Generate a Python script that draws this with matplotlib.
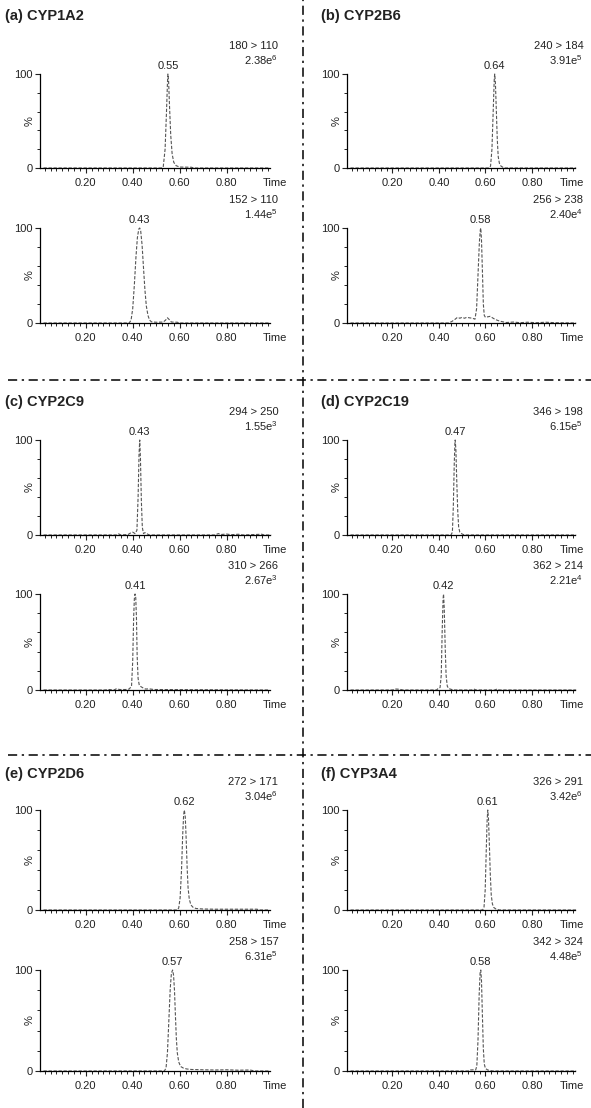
import matplotlib
matplotlib.use("Agg")
import matplotlib.pyplot as plt
from matplotlib.ticker import FixedLocator, MultipleLocator
from matplotlib.lines import Line2D

plt.rcParams.update({
    "font.family": ["Liberation Sans", "DejaVu Sans"],
    "font.size": 8,
    "mathtext.fontset": "custom",
    "mathtext.rm": "Liberation Sans",
    "mathtext.it": "Liberation Sans:italic",
    "mathtext.bf": "Liberation Sans:bold",
})

# === data (time [min], relative intensity [%]) ===
enzymes = ["(a) CYP1A2", "(b) CYP2B6", "(c) CYP2C9", "(d) CYP2C19", "(e) CYP2D6", "(f) CYP3A4"]

transitions = [["180 > 110", "152 > 110"], ["240 > 184", "256 > 238"],
               ["294 > 250", "310 > 266"], ["346 > 198", "362 > 214"],
               ["272 > 171", "258 > 157"], ["326 > 291", "342 > 324"]]
intensities = [[r"2.38e$^{6}$", r"1.44e$^{5}$"], [r"3.91e$^{5}$", r"2.40e$^{4}$"],
               [r"1.55e$^{3}$", r"2.67e$^{3}$"], [r"6.15e$^{5}$", r"2.21e$^{4}$"],
               [r"3.04e$^{6}$", r"6.31e$^{5}$"], [r"3.42e$^{6}$", r"4.48e$^{5}$"]]
peak_rt = [[0.55, 0.43], [0.64, 0.58], [0.43, 0.41], [0.47, 0.42], [0.62, 0.57], [0.61, 0.58]]

# CYP1A2
a1_t = [0.02, 0.52, 0.530, 0.538, 0.544, 0.548, 0.550, 0.553, 0.557, 0.562, 0.568, 0.575, 0.585, 0.60, 0.65, 0.66, 0.98]
a1_y = [0, 0, 1, 20, 60, 90, 100, 92, 65, 35, 15, 6, 2.5, 1, 0.8, 0, 0]
a2_t = [0.02, 0.385, 0.393, 0.400, 0.407, 0.414, 0.420, 0.426, 0.430, 0.434, 0.440, 0.446, 0.452, 0.458,
        0.465, 0.472, 0.48, 0.50, 0.53, 0.54, 0.548, 0.556, 0.565, 0.59, 0.60, 0.98]
a2_y = [0, 0, 3, 15, 40, 70, 90, 99, 100, 97, 82, 58, 35, 18, 8, 3, 1.2, 0.8, 1, 3, 5.5, 3.5, 1, 0.8, 0, 0]
# CYP2B6
b1_t = [0.02, 0.615, 0.622, 0.628, 0.634, 0.638, 0.640, 0.643, 0.647, 0.651, 0.655, 0.660, 0.667, 0.675, 0.685, 0.99]
b1_y = [0, 0, 2, 20, 65, 95, 100, 90, 60, 30, 12, 5, 2, 0.8, 0, 0]
b2_t = [0.02, 0.44, 0.455, 0.47, 0.48, 0.49, 0.50, 0.51, 0.52, 0.53, 0.545, 0.555, 0.562, 0.568, 0.574,
        0.578, 0.580, 0.583, 0.587, 0.591, 0.595, 0.60, 0.61, 0.62, 0.63, 0.64, 0.655, 0.67, 0.69,
        0.72, 0.75, 0.78, 0.82, 0.86, 0.90, 0.99]
b2_y = [0, 0, 1.5, 4, 6, 5, 6, 5, 6, 5.5, 5, 4, 15, 50, 85, 98, 100, 88, 55, 20, 8, 6, 6.5, 7, 5.5, 4,
        2.5, 1.5, 0.5, 1, 0.3, 0.8, 0.3, 0.8, 0.3, 0]
# CYP2C9
c1_t = [0.02, 0.33, 0.34, 0.35, 0.38, 0.39, 0.40, 0.41, 0.418, 0.423, 0.427, 0.430, 0.433, 0.437, 0.441,
        0.446, 0.452, 0.46, 0.47, 0.75, 0.765, 0.775, 0.80, 0.82, 0.85, 0.87, 0.95, 0.96, 0.99]
c1_y = [0, 0, 1.2, 0, 0.5, 2, 3, 1.5, 5, 40, 85, 100, 80, 35, 8, 1.5, 2.5, 1.5, 0, 0, 1.5, 0.5, 1, 0.3,
        0.8, 0, 0.8, 0, 0]
c2_t = [0.02, 0.28, 0.30, 0.32, 0.33, 0.345, 0.37, 0.385, 0.395, 0.400, 0.404, 0.407, 0.410, 0.413,
        0.416, 0.419, 0.423, 0.428, 0.435, 0.445, 0.455, 0.47, 0.49, 0.98]
c2_y = [0, 0, 0.5, 0, 1.2, 0.5, 0.5, 1, 4, 30, 75, 95, 100, 96, 75, 35, 12, 5, 3.5, 2, 1, 1.2, 0.5, 0]
# CYP2C19
d1_t = [0.02, 0.452, 0.458, 0.462, 0.466, 0.469, 0.470, 0.473, 0.477, 0.481, 0.485, 0.49, 0.50, 0.51, 0.99]
d1_y = [0, 0, 3, 30, 75, 98, 100, 90, 55, 25, 8, 3, 1, 0, 0]
d2_t = [0.02, 0.20, 0.215, 0.23, 0.245, 0.39, 0.398, 0.405, 0.410, 0.414, 0.418, 0.420, 0.423, 0.427,
        0.431, 0.436, 0.442, 0.455, 0.47, 0.54, 0.55, 0.56, 0.64, 0.65, 0.66, 0.99]
d2_y = [0, 0, 1, 0.8, 0, 0, 2, 2.5, 15, 60, 95, 100, 85, 45, 15, 4, 1.5, 0.5, 0, 0, 1, 0, 0, 1, 0, 0]
# CYP2D6
e1_t = [0.02, 0.59, 0.596, 0.602, 0.608, 0.613, 0.617, 0.620, 0.624, 0.628, 0.632, 0.636, 0.641, 0.648,
        0.658, 0.67, 0.70, 0.75, 0.85, 0.93, 0.94, 0.98]
e1_y = [0, 0, 2, 12, 40, 75, 95, 100, 93, 70, 42, 22, 11, 5, 2.5, 1.5, 1, 0.8, 0.8, 0.8, 0, 0]
e2_t = [0.02, 0.535, 0.542, 0.548, 0.554, 0.560, 0.565, 0.570, 0.574, 0.578, 0.582, 0.586, 0.590, 0.596,
        0.604, 0.615, 0.63, 0.65, 0.70, 0.75, 0.80, 0.85, 0.90, 0.92, 0.98]
e2_y = [0, 0, 3, 18, 50, 82, 97, 100, 95, 80, 55, 32, 18, 9, 4.5, 3, 2, 1.5, 1.2, 1, 1.2, 0.8, 1, 0, 0]
# CYP3A4
f1_t = [0.02, 0.588, 0.594, 0.599, 0.603, 0.607, 0.610, 0.613, 0.617, 0.621, 0.625, 0.63, 0.636, 0.645, 0.66, 0.99]
f1_y = [0, 0, 3, 20, 55, 88, 100, 92, 65, 35, 15, 6, 2.5, 1, 0, 0]
f2_t = [0.02, 0.525, 0.535, 0.55, 0.558, 0.563, 0.568, 0.573, 0.577, 0.580, 0.583, 0.587, 0.591, 0.595,
        0.60, 0.61, 0.62, 0.63, 0.99]
f2_y = [0, 0, 1, 1.2, 1, 5, 30, 75, 97, 100, 90, 55, 22, 7, 2.5, 1, 0.5, 0, 0]

traces = [[(a1_t, a1_y), (a2_t, a2_y)], [(b1_t, b1_y), (b2_t, b2_y)],
          [(c1_t, c1_y), (c2_t, c2_y)], [(d1_t, d1_y), (d2_t, d2_y)],
          [(e1_t, e1_y), (e2_t, e2_y)], [(f1_t, f1_y), (f2_t, f2_y)]]

# === layout in pixels ===
W, H = 591, 1108
col_x = [(40, 270), (347, 575)]
row_y = [(74, 168), (228, 323), (440, 535), (594, 690), (810, 910), (970, 1071)]
title_x = [5, 321]
title_y = [16, 402, 774]
time_dx = [12, 6.5]  # offset (pt) of the right edge of "Time" past the axis end
ink = "#222222"

fig = plt.figure(figsize=(W / 100, H / 100), dpi=100)


def px_rect(x0, x1, y0, y1):
    return [x0 / W, 1 - y1 / H, (x1 - x0) / W, (y1 - y0) / H]


for i in range(6):
    col, block = i % 2, i // 2
    fig.text(title_x[col] / W, 1 - title_y[block] / H, enzymes[i], fontsize=10.5,
             fontweight="bold", ha="left", va="center", color=ink)
    for k in range(2):
        x0, x1 = col_x[col]
        y0, y1 = row_y[2 * block + k]
        ax = fig.add_axes(px_rect(x0, x1, y0, y1))
        t, y = traces[i][k]
        ax.plot(t, y, color="#555555", lw=0.8, ls=(0, (3, 1.5)), clip_on=False)
        ax.set_xlim(0.005, 0.985)
        ax.set_ylim(0, 100)
        for s in ["top", "right"]:
            ax.spines[s].set_visible(False)
        for s in ["left", "bottom"]:
            ax.spines[s].set_linewidth(0.9)
            ax.spines[s].set_color("black")
        ax.xaxis.set_major_locator(FixedLocator([0.2, 0.4, 0.6, 0.8]))
        ax.xaxis.set_minor_locator(MultipleLocator(0.025))
        ax.set_xticklabels(["0.20", "0.40", "0.60", "0.80"])
        ax.yaxis.set_major_locator(FixedLocator([0, 100]))
        ax.yaxis.set_minor_locator(FixedLocator([20, 40, 60, 80]))
        ax.set_yticklabels(["0", "100"])
        ax.tick_params(axis="both", which="major", direction="out", length=3.5, width=0.8,
                       pad=1.5, labelsize=8, colors=ink)
        ax.tick_params(axis="both", which="minor", direction="out", length=2.2, width=0.6)
        ax.tick_params(axis="x", which="major", pad=4)
        ax.text(-0.045, 0.5, "%", transform=ax.transAxes, rotation=90, ha="center",
                va="center", fontsize=8, color=ink)
        ax.annotate("Time", xy=(1, 0), xycoords="axes fraction", xytext=(time_dx[col], -11),
                    textcoords="offset points", ha="right", va="center", fontsize=8, color=ink)
        ax.annotate(f"{peak_rt[i][k]:.2f}", xy=(peak_rt[i][k], 100), xytext=(0, 2),
                    textcoords="offset points", ha="center", va="bottom", fontsize=8, color=ink)
        ax.annotate(transitions[i][k], xy=(1, 1), xycoords="axes fraction", xytext=(6, 20),
                    textcoords="offset points", ha="right", va="center", fontsize=8, color=ink)
        ax.annotate(intensities[i][k], xy=(1, 1), xycoords="axes fraction", xytext=(6, 10),
                    textcoords="offset points", ha="right", va="center", fontsize=8, color=ink)

# dash-dot separators between the panels
sep = dict(color="black", lw=1.1, ls=(0, (6, 3, 1.5, 3)))
fig.add_artist(Line2D([303 / W, 303 / W], [0, 1], transform=fig.transFigure, **sep))
for yy in [380, 755]:
    fig.add_artist(Line2D([8 / W, 1], [1 - yy / H, 1 - yy / H], transform=fig.transFigure, **sep))

fig.savefig("out.png", dpi=100)
